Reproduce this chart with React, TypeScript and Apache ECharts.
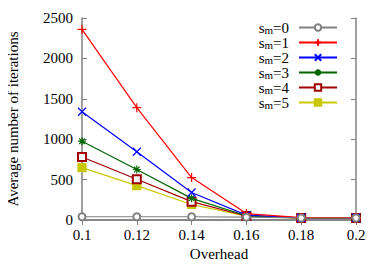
import React, { useEffect, useRef } from "react";
import * as echarts from "echarts";

const xCategories = [0.1, 0.12, 0.14, 0.16, 0.18, 0.2];
const seriesNames = ["s0", "s1", "s2", "s3", "s4", "s5"];
const legendLabels = ["0", "1", "2", "3", "4", "5"];
const s0 = [40, 40, 40, 35, 25, 25];
const s1 = [2360, 1390, 525, 80, 30, 30];
const s2 = [1340, 845, 340, 60, 28, 28];
const s3 = [975, 625, 268, 52, 25, 25];
const s4 = [780, 505, 227, 50, 25, 25];
const s5 = [648, 425, 192, 48, 24, 24];
const yTicks = [0, 500, 1000, 1500, 2000, 2500];

const colors = ["#808080", "#ff0000", "#0000ff", "#006400", "#a00000", "#c8c800"];
const PLUS = "path://M5,0L5,10M0,5L10,5";
const CROSS = "path://M0,0L10,10M0,10L10,0";
const STAR = "path://M5,0L5,10M0,5L10,5M1.5,1.5L8.5,8.5M1.5,8.5L8.5,1.5";

const FONT = "Liberation Serif";

export default function App() {
  const ref = useRef<HTMLDivElement>(null);
  useEffect(() => {
    if (!ref.current) return;
    const chart = echarts.init(ref.current, null, { renderer: "svg" });
    const data = [s0, s1, s2, s3, s4, s5];
    const symbols = ["emptyCircle", PLUS, CROSS, STAR, "emptyRect", "rect"];
    const sizes = [7, 9, 8, 8, 8, 8];
    const series = data.map((d, i) => ({
      name: seriesNames[i],
      type: "line",
      data: d.map((v, j) => [xCategories[j], v]),
      symbol: symbols[i],
      symbolSize: sizes[i],
      showAllSymbol: true,
      lineStyle: { color: colors[i], width: 1.2 },
      itemStyle: {
        color: colors[i],
        borderColor: colors[i],
        borderWidth: 1.2,
      },
      z: 10 - i,
    }));
    const lbl = { fontFamily: FONT, fontSize: 15, color: "#000" };
    chart.setOption({
      animation: false,
      textStyle: { fontFamily: FONT },
      grid: { left: 82, right: 27, top: 18, bottom: 48, containLabel: false, outerBoundsMode: "none" },
      legend: {
        orient: "vertical",
        right: 40,
        top: 15,
        align: "right",
        itemWidth: 38,
        itemHeight: 8,
        itemGap: 0,
        data: seriesNames,
        formatter: (name: string) =>
          `{a|s}{b|m}{a|=${legendLabels[seriesNames.indexOf(name)]}}{g| }`,
        textStyle: {
          fontFamily: FONT,
          fontSize: 15,
          rich: {
            a: { fontSize: 15, fontFamily: FONT, color: "#000", lineHeight: 15 },
            b: { fontSize: 11, fontFamily: FONT, color: "#000", verticalAlign: "bottom", lineHeight: 5 },
            g: { fontSize: 5, width: 5, lineHeight: 6 },
          },
        },
      },
      xAxis: [
        {
          type: "value",
          min: 0.1,
          max: 0.2,
          interval: 0.02,
          name: "Overhead",
          nameLocation: "middle",
          nameGap: 26,
          nameTextStyle: lbl,
          axisLine: { lineStyle: { color: "#808080", width: 1.5 } },
          axisTick: { inside: true, length: 5, lineStyle: { color: "#808080" } },
          axisLabel: { ...lbl, margin: 7, formatter: (v: number) => String(+v.toFixed(2)) },
          splitLine: { show: false },
        },
        {
          type: "value",
          position: "top",
          min: 0.1,
          max: 0.2,
          interval: 0.02,
          axisLine: { lineStyle: { color: "#808080", width: 1.5 } },
          axisTick: { inside: true, length: 5, lineStyle: { color: "#808080" } },
          axisLabel: { show: false },
          splitLine: { show: false },
        },
      ],
      yAxis: [
        {
          type: "value",
          min: 0,
          max: 2500,
          interval: 500,
          name: "Average number of iterations",
          nameLocation: "middle",
          nameGap: 62,
          nameTextStyle: lbl,
          axisLine: { show: true, lineStyle: { color: "#808080", width: 1.5 } },
          axisTick: { show: true, inside: true, length: 5, lineStyle: { color: "#808080" } },
          axisLabel: { ...lbl, margin: 9, formatter: (v: number) => (yTicks.includes(v) ? String(v) : "") },
          splitLine: { show: false },
        },
        {
          type: "value",
          position: "right",
          min: 0,
          max: 2500,
          interval: 500,
          axisLine: { show: true, lineStyle: { color: "#808080", width: 1.5 } },
          axisTick: { show: true, inside: true, length: 5, lineStyle: { color: "#808080" } },
          axisLabel: { show: false },
          splitLine: { show: false },
        },
      ],
      series,
    });
    return () => chart.dispose();
  }, []);
  return <div ref={ref} style={{ width: 383, height: 268, margin: -8 }} />;
}
